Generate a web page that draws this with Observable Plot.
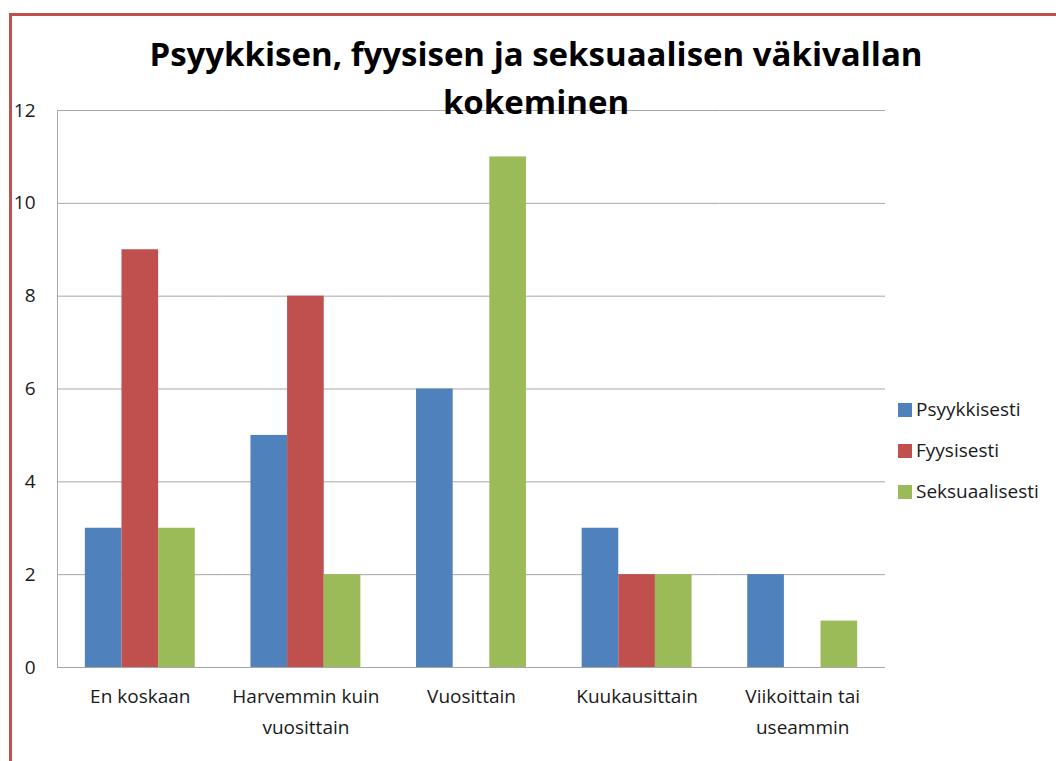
<!DOCTYPE html>
<html>
<head>
<meta charset="utf-8">
<script src="https://cdn.jsdelivr.net/npm/d3@7"></script>
<script src="https://cdn.jsdelivr.net/npm/@observablehq/plot@0.6"></script>
<style>
  html, body { margin: 0; padding: 0; background: #fff; }
  #wrap { position: relative; width: 1056px; height: 761px; overflow: hidden; font-family: "Open Sans", Lato, sans-serif; color: #1a1a1a; }
  #border { position: absolute; left: 9px; top: 13px; right: -10px; bottom: -10px; border-top: 3px solid #C0504D; border-left: 3px solid #C0504D; }
  #chart { position: absolute; left: 0; top: 0; }
  #title { position: absolute; left: 86px; width: 900px; top: 30px; text-align: center; font-weight: 700; font-size: 33px; line-height: 48px; color: #000; }
  #legend { position: absolute; left: 898px; top: 389px; font-size: 19px; line-height: 1; }
  .item { display: flex; align-items: center; height: 41px; }
  .sw { width: 14px; height: 14px; margin-right: 4px; flex: none; }
</style>
</head>
<body>
<div id="wrap">
  <div id="border"></div>
  <div id="chart"></div>
  <div id="title"></div>
  <div id="legend"></div>
</div>
<script>
const titleLines = ["Psyykkisen, fyysisen ja seksuaalisen väkivallan", "kokeminen"];
const categories = ["En koskaan", "Harvemmin kuin vuosittain", "Vuosittain", "Kuukausittain", "Viikoittain tai useammin"];
const categoryLabels = ["En koskaan", "Harvemmin kuin\nvuosittain", "Vuosittain", "Kuukausittain", "Viikoittain tai\nuseammin"];
const series = ["Psyykkisesti", "Fyysisesti", "Seksuaalisesti"];
const colors = ["#4F81BD", "#C0504D", "#9BBB59"];
const psyykkisesti = [3, 5, 6, 3, 2];
const fyysisesti = [9, 8, 0, 2, 0];
const seksuaalisesti = [3, 2, 11, 2, 1];
const yTicks = [0, 2, 4, 6, 8, 10, 12];

const values = [psyykkisesti, fyysisesti, seksuaalisesti];
const data = [];
categories.forEach((c, i) => series.forEach((s, j) => data.push({category: c, series: s, value: values[j][i]})));
const labelOf = new Map(categories.map((c, i) => [c, categoryLabels[i]]));

const chart = Plot.plot({
  width: 1056,
  height: 761,
  marginLeft: 57,
  marginRight: 171,
  marginTop: 110,
  marginBottom: 94,
  style: {fontFamily: "'Open Sans', Lato, sans-serif", background: "transparent", color: "#1a1a1a"},
  fx: {domain: categories, padding: 0, round: false, label: null},
  x: {domain: series, paddingInner: 0, paddingOuter: 0.76, round: false, axis: null},
  y: {domain: [0, 12], label: null},
  color: {domain: series, range: colors},
  marks: [
    Plot.ruleY(yTicks, {stroke: "#a6a6a6", strokeWidth: 1}),
    Plot.frame({anchor: "left", stroke: "#a6a6a6", facetAnchor: "left"}),
    Plot.barY(data, {fx: "category", x: "series", y: "value", fill: "series"}),
    Plot.ruleY([0], {stroke: "#a6a6a6"}),
    Plot.axisY({ticks: yTicks, tickSize: 0, tickPadding: 22, fontSize: 19, label: null}),
    Plot.axisFx({anchor: "bottom", tickSize: 0, tickPadding: 13, fontSize: 19, lineHeight: 1.65, tickFormat: d => labelOf.get(d), label: null})
  ]
});
document.getElementById("chart").appendChild(chart);

const t = document.getElementById("title");
titleLines.forEach((line, i) => { if (i) t.appendChild(document.createElement("br")); t.appendChild(document.createTextNode(line)); });

const lg = document.getElementById("legend");
series.forEach((s, i) => {
  const row = document.createElement("div"); row.className = "item";
  const sw = document.createElement("div"); sw.className = "sw"; sw.style.background = colors[i];
  const tx = document.createElement("span"); tx.textContent = s;
  row.appendChild(sw); row.appendChild(tx); lg.appendChild(row);
});
</script>
</body>
</html>
